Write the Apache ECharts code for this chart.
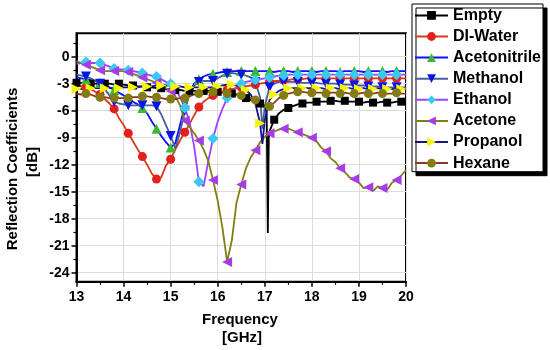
<!DOCTYPE html>
<html>
<head>
<meta charset="utf-8">
<script src="https://cdn.jsdelivr.net/npm/echarts@6/dist/echarts.min.js"></script>
<style>html,body{margin:0;padding:0;background:#fff}#c{width:550px;height:350px}</style>
</head>
<body>
<div id="c"></div>
<script>
const freq = [
13.0,13.1,13.2,13.3,13.4,13.5,13.6,13.7,13.8,13.9,
14.0,14.1,14.2,14.3,14.4,14.5,14.6,14.7,14.8,14.9,
15.0,15.1,15.2,15.3,15.4,15.5,15.6,15.7,15.8,15.9,
16.0,16.1,16.2,16.3,16.4,16.5,16.6,16.7,16.8,16.9,
17.0,17.1,17.2,17.3,17.4,17.5,17.6,17.7,17.8,17.9,
18.0,18.1,18.2,18.3,18.4,18.5,18.6,18.7,18.8,18.9,
19.0,19.1,19.2,19.3,19.4,19.5,19.6,19.7,19.8,19.9,
20.0];

const empty = [
-2.9,-2.9,-3.0,-3.0,-3.0,-3.1,-3.0,-3.0,-3.1,-3.0,
-3.1,-3.2,-3.2,-3.3,-3.3,-3.4,-3.4,-3.5,-3.5,-3.6,
-3.6,-3.7,-3.7,-3.8,-3.8,-3.8,-3.8,-3.8,-3.8,-3.9,
-3.9,-3.9,-4.0,-4.1,-4.2,-4.4,-4.6,-4.8,-5.0,-5.2,
-5.6,-8.3,-7.0,-6.3,-5.9,-5.7,-5.5,-5.3,-5.2,-5.1,
-5.1,-5.0,-5.0,-5.0,-4.9,-4.9,-5.0,-4.9,-5.0,-5.0,
-5.0,-5.1,-5.0,-5.1,-5.1,-5.0,-5.1,-5.1,-5.0,-5.0,
-5.0];
const emptyDipFreq = [17.04, 17.065, 17.085];
const emptyDipVals = [-6.2, -19.6, -9.0];

const diWater = [
-3.2,-3.3,-3.4,-3.6,-3.9,-4.2,-4.7,-5.2,-5.8,-6.8,
-7.6,-8.5,-9.4,-10.3,-11.1,-12.0,-13.0,-13.6,-13.4,-12.1,
-11.4,-10.3,-9.3,-8.4,-7.5,-6.5,-5.6,-5.0,-4.6,-4.3,
-4.1,-3.9,-3.7,-3.6,-3.5,-3.4,-3.3,-3.2,-3.1,-3.0,
-2.9,-2.8,-2.7,-2.7,-2.6,-2.6,-2.5,-2.5,-2.5,-2.4,
-2.4,-2.4,-2.4,-2.4,-2.4,-2.4,-2.4,-2.4,-2.4,-2.4,
-2.4,-2.4,-2.4,-2.4,-2.4,-2.4,-2.4,-2.4,-2.4,-2.4,
-2.4];

const acetonitrile = [
-2.3,-2.4,-2.5,-2.6,-2.7,-2.9,-3.1,-3.4,-3.7,-4.0,
-4.3,-4.7,-5.0,-5.3,-5.7,-6.3,-7.2,-8.0,-8.8,-9.5,
-10.1,-9.6,-7.6,-5.4,-3.8,-3.0,-2.5,-2.2,-2.0,-1.9,
-1.8,-1.7,-1.7,-1.6,-1.6,-1.6,-1.6,-1.6,-1.6,-1.6,
-1.6,-1.6,-1.7,-1.6,-1.6,-1.6,-1.7,-1.6,-1.6,-1.6,
-1.6,-1.7,-1.6,-1.6,-1.6,-1.6,-1.7,-1.6,-1.6,-1.6,
-1.6,-1.7,-1.6,-1.6,-1.6,-1.6,-1.7,-1.6,-1.6,-1.6,
-1.6];

const methanol = [
-2.0,-2.1,-2.2,-2.4,-2.7,-3.0,-3.6,-4.3,-5.0,-5.2,
-5.3,-5.4,-5.4,-5.4,-5.4,-5.4,-5.4,-5.5,-6.4,-7.6,
-8.8,-10.2,-8.4,-6.0,-4.2,-3.2,-2.8,-2.7,-2.7,-2.7,
-2.4,-2.1,-1.9,-1.8,-1.9,-2.0,-2.1,-2.3,-2.8,-4.5,
-5.5,-3.4,-3.0,-2.8,-2.8,-2.8,-2.8,-2.8,-2.9,-2.9,
-2.9,-2.9,-3.0,-3.0,-3.0,-3.0,-3.1,-3.1,-3.1,-3.2,
-3.2,-3.2,-3.3,-3.3,-3.3,-3.4,-3.4,-3.4,-3.4,-3.4,
-3.4];
const methanolDipFreq = [16.95];
const methanolDipVals = [-8.0];

const ethanol = [
-0.8,-0.7,-0.6,-0.7,-0.7,-0.7,-0.9,-1.1,-1.3,-1.4,
-1.4,-1.5,-1.6,-1.7,-1.8,-2.0,-2.1,-2.2,-2.5,-2.8,
-3.0,-3.6,-4.5,-5.7,-7.2,-10.0,-13.9,-14.4,-11.6,-9.1,
-7.2,-5.8,-4.6,-3.9,-3.4,-3.0,-2.8,-2.7,-2.6,-2.5,
-2.4,-2.3,-2.2,-2.1,-2.1,-2.0,-2.0,-2.0,-2.0,-2.0,
-2.0,-2.0,-2.0,-2.0,-2.0,-2.0,-2.0,-2.0,-2.0,-2.0,
-2.0,-2.0,-2.0,-2.0,-2.0,-2.0,-2.0,-2.0,-2.0,-2.0,
-2.0];

const acetone = [
-0.5,-0.7,-0.9,-1.1,-1.3,-1.5,-1.6,-1.6,-1.6,-1.6,
-1.6,-1.7,-1.9,-2.1,-2.3,-2.5,-2.7,-2.9,-3.2,-3.5,
-3.8,-4.4,-5.4,-7.1,-7.8,-8.5,-9.3,-10.3,-11.6,-13.7,
-16.0,-19.0,-22.8,-20.4,-16.2,-14.2,-12.4,-11.2,-10.4,-9.5,
-8.9,-8.5,-8.3,-8.1,-8.0,-8.0,-8.2,-8.4,-8.6,-8.8,
-9.0,-9.4,-10.1,-10.5,-11.3,-11.7,-12.4,-12.8,-13.4,-13.6,
-14.0,-14.6,-14.5,-14.9,-14.4,-14.6,-14.8,-14.0,-13.7,-13.2,
-12.6];

const propanol = [
-3.6,-3.6,-3.5,-3.5,-3.5,-3.5,-3.5,-3.5,-3.5,-3.5,
-3.4,-3.4,-3.4,-3.4,-3.3,-3.3,-3.3,-3.2,-3.2,-3.2,
-3.2,-3.3,-3.3,-3.4,-3.4,-3.4,-3.4,-3.4,-3.4,-3.4,
-3.3,-3.2,-3.1,-3.1,-3.2,-3.4,-3.7,-4.2,-5.2,-7.4,
-7.0,-4.8,-4.2,-3.8,-3.6,-3.5,-3.5,-3.5,-3.5,-3.5,
-3.5,-3.5,-3.5,-3.6,-3.5,-3.5,-3.6,-3.5,-3.5,-3.6,
-3.6,-3.5,-3.6,-3.6,-3.5,-3.6,-3.6,-3.6,-3.5,-3.6,
-3.6];
const propanolDipFreq = [16.95];
const propanolDipVals = [-9.7];

const hexane = [
-4.1,-4.2,-4.1,-4.2,-4.4,-4.5,-4.5,-4.6,-4.6,-4.6,
-4.6,-4.6,-4.5,-4.5,-4.4,-4.4,-4.5,-4.5,-4.6,-4.7,
-4.7,-4.7,-4.6,-4.6,-4.4,-4.2,-4.1,-4.0,-3.9,-3.9,
-3.9,-4.0,-4.1,-4.1,-4.2,-4.3,-4.4,-4.6,-4.8,-5.1,
-5.4,-5.5,-5.1,-4.6,-4.3,-4.1,-4.0,-3.9,-3.9,-4.0,
-4.0,-4.0,-4.0,-4.1,-4.0,-4.0,-4.1,-4.0,-4.1,-4.1,
-4.1,-4.0,-4.1,-4.1,-4.0,-4.1,-4.1,-4.1,-4.0,-4.1,
-4.1];

const seriesNames = ['Empty','DI-Water','Acetonitrile','Methanol','Ethanol','Acetone','Propanol','Hexane'];
const yLabels = [0,-3,-6,-9,-12,-15,-18,-21,-24];
const yMinor = [1.5,-1.5,-4.5,-7.5,-10.5,-13.5,-16.5,-19.5,-22.5];

function build(vals, offset, dipF, dipV) {
  const pts = freq.map((f, i) => [f, vals[i], i % 3 === offset ? 1 : 0]);
  if (dipF) dipF.forEach((f, k) => pts.push([f, dipV[k], 0]));
  pts.sort((a, b) => a[0] - b[0]);
  return pts;
}

const styles = [
  {vals: empty, off: 0, dipF: emptyDipFreq, dipV: emptyDipVals, line: '#000000', mark: '#000000', symbol: 'rect', size: 8, rot: 0},
  {vals: diWater, off: 2, line: '#d83a1c', mark: '#e3201b', symbol: 'circle', size: 9, rot: 0},
  {vals: acetonitrile, off: 2, line: '#0a14ff', mark: '#3cb832', symbol: 'triangle', size: 10, rot: 0},
  {vals: methanol, off: 2, dipF: methanolDipFreq, dipV: methanolDipVals, line: '#44609a', mark: '#0a14e6', symbol: 'triangle', size: 10, rot: 180},
  {vals: ethanol, off: 2, line: '#a040ff', mark: '#3cc8f5', symbol: 'diamond', size: 11, rot: 0},
  {vals: acetone, off: 2, line: '#808010', mark: '#a63ce6', symbol: 'triangle', size: 10, rot: 90},
  {vals: propanol, off: 0, dipF: propanolDipFreq, dipV: propanolDipVals, line: '#14148c', mark: '#f5f50a', symbol: 'triangle', size: 10, rot: -90},
  {vals: hexane, off: 2, line: '#8b3a22', mark: '#847c10', symbol: 'circle', size: 9, rot: 0}
];

const FONT = '"Liberation Sans", Arial, sans-serif';

const series = styles.map((s, k) => ({
  name: seriesNames[k],
  type: 'line',
  data: build(s.vals, s.off, s.dipF, s.dipV),
  symbol: s.symbol,
  symbolRotate: s.rot,
  symbolSize: (v) => v[2] ? s.size : 0,
  showAllSymbol: true,
  lineStyle: {color: s.line, width: 1.8},
  itemStyle: {color: s.mark},
  z: 2
}));

const chart = echarts.init(document.getElementById('c'), null, {renderer: 'canvas'});
chart.setOption({
  animation: false,
  backgroundColor: '#fff',
  grid: {left: 76.5, right: 144, top: 33.3, bottom: 68.3, show: true, borderColor: '#000', borderWidth: 2, backgroundColor: '#fff', z: 0},
  xAxis: {
    type: 'value', min: 13, max: 20, interval: 1,
    axisLine: {show: true, onZero: false, lineStyle: {color: '#000', width: 2}},
    axisTick: {show: true, inside: false, length: 5, lineStyle: {color: '#000', width: 1.5}},
    minorTick: {show: true, splitNumber: 2, length: 3, lineStyle: {color: '#000', width: 1.2}},
    axisLabel: {color: '#000', fontFamily: FONT, fontWeight: 'bold', fontSize: 14, margin: 8},
    splitLine: {show: true, lineStyle: {color: '#dcdcdc', width: 1}}
  },
  yAxis: [{
    type: 'value', min: -25, max: 2.6, position: 'left',
    axisLine: {show: true, onZero: false, lineStyle: {color: '#000', width: 2}},
    axisTick: {show: true, inside: false, length: 5, customValues: yLabels, lineStyle: {color: '#000', width: 1.5}},
    axisLabel: {color: '#000', fontFamily: FONT, fontWeight: 'bold', fontSize: 14, margin: 7, customValues: yLabels, formatter: (v) => String(Math.round(v))},
    splitLine: {show: true, lineStyle: {color: '#dcdcdc', width: 1}}
  }, {
    type: 'value', min: -25, max: 2.6, position: 'left',
    axisLine: {show: false},
    axisTick: {show: true, inside: false, length: 3, customValues: yMinor, lineStyle: {color: '#000', width: 1.2}},
    axisLabel: {show: false},
    splitLine: {show: false}
  }],
  legend: {
    orient: 'vertical', left: 412, top: 4,
    padding: [3.4, 2, 0.6, 2],
    itemWidth: 33, itemHeight: 11, itemGap: 5.1,
    backgroundColor: '#fff', borderColor: '#000', borderWidth: 1,
    shadowColor: '#000', shadowBlur: 0, shadowOffsetX: 4, shadowOffsetY: 4,
    data: seriesNames,
    textStyle: {color: '#000', fontFamily: FONT, fontWeight: 'bold', fontSize: 16, lineHeight: 16},
    lineStyle: {width: 2}
  },
  graphic: [
    {type: 'text', x: 240, y: 320, style: {text: 'Frequency', font: 'bold 15px ' + FONT, fill: '#000', textAlign: 'center', textVerticalAlign: 'middle'}},
    {type: 'text', x: 242, y: 338, style: {text: '[GHz]', font: 'bold 15px ' + FONT, fill: '#000', textAlign: 'center', textVerticalAlign: 'middle'}},
    {type: 'text', x: 13, y: 169, rotation: Math.PI / 2, style: {text: 'Reflection Coefficients', font: 'bold 15px ' + FONT, fill: '#000', textAlign: 'center', textVerticalAlign: 'middle'}},
    {type: 'text', x: 33, y: 162, rotation: Math.PI / 2, style: {text: '[dB]', font: 'bold 15px ' + FONT, fill: '#000', textAlign: 'center', textVerticalAlign: 'middle'}}
  ],
  series: series
});
</script>
</body>
</html>
